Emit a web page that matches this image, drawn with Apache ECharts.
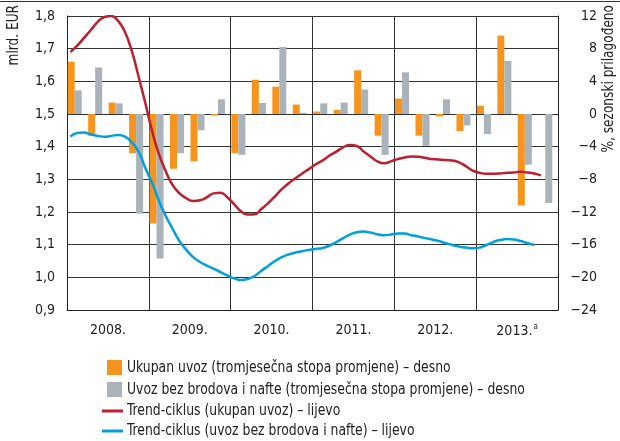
<!DOCTYPE html>
<html>
<head>
<meta charset="utf-8">
<script src="https://cdn.jsdelivr.net/npm/echarts@6/dist/echarts.min.js"></script>
<style>
  html, body { margin: 0; padding: 0; background: #fff; }
  #main { width: 620px; height: 441px; }
</style>
</head>
<body>
<div id="main"></div>
<script>
// godine i kvartali
var years = ['2008.', '2009.', '2010.', '2011.', '2012.', '2013.'];
var quarters = [];
var months = [];
for (var y = 0; y < years.length; y++) {
    for (var q = 1; q <= 4; q++) quarters.push(years[y] + ' Q' + q);
    for (var m = 1; m <= 12; m++) months.push(years[y] + ' ' + m);
}

// tromjesecna stopa promjene (%), desna os
var ukupanUvoz = [
    6.4, -2.65, 1.4, -4.8,
    -13.4, -6.7, -5.8, -0.2,
    -4.8, 4.2, 3.35, 1.15,
    0.3, 0.5, 5.35, -2.65,
    1.9, -2.65, -0.3, -2.1,
    1.0, 9.6, -11.2, null
];
var uvozBezBrodova = [
    2.9, 5.7, 1.3, -12.2,
    -17.7, -4.8, -2.0, 1.8,
    -5.0, 1.35, 8.2, 0.15,
    1.3, 1.4, 3.0, -5.0,
    5.1, -3.9, 1.8, -1.4,
    -2.45, 6.5, -6.2, -10.9
];

// trend-ciklus (mlrd. EUR), lijeva os, mjesecno
var trendUkupan = [
    1.690, 1.709, 1.733, 1.757, 1.782, 1.797, 1.800, 1.785, 1.751, 1.693, 1.614, 1.532,
    1.446, 1.376, 1.324, 1.282, 1.257, 1.242, 1.234, 1.236, 1.245, 1.257, 1.259, 1.245,
    1.224, 1.202, 1.192, 1.193, 1.209, 1.227, 1.248, 1.270, 1.288, 1.303, 1.318, 1.332,
    1.346, 1.358, 1.373, 1.385, 1.398, 1.405, 1.402, 1.385, 1.370, 1.355, 1.349, 1.355,
    1.362, 1.367, 1.370, 1.369, 1.366, 1.362, 1.361, 1.359, 1.358, 1.352, 1.340, 1.327,
    1.320, 1.317, 1.317, 1.318, 1.320, 1.321, 1.323, 1.321, 1.318, 1.312
];
var trendBezBrodova = [
    1.431, 1.442, 1.443, 1.437, 1.433, 1.430, 1.433, 1.436, 1.431, 1.413, 1.385, 1.334,
    1.288, 1.233, 1.187, 1.148, 1.111, 1.084, 1.062, 1.047, 1.036, 1.027, 1.016, 1.006,
    0.997, 0.992, 0.995, 1.004, 1.020, 1.035, 1.050, 1.062, 1.070, 1.076, 1.080, 1.084,
    1.087, 1.090, 1.097, 1.108, 1.120, 1.131, 1.138, 1.140, 1.137, 1.132, 1.129, 1.131,
    1.134, 1.134, 1.129, 1.125, 1.120, 1.116, 1.111, 1.105, 1.099, 1.094, 1.091, 1.089,
    1.091, 1.099, 1.108, 1.114, 1.117, 1.116, 1.111, 1.105, 1.099
];

var legendNames = [
    'Ukupan uvoz (tromjesečna stopa promjene) – desno',
    'Uvoz bez brodova i nafte (tromjesečna stopa promjene) – desno',
    'Trend-ciklus (ukupan uvoz) – lijevo',
    'Trend-ciklus (uvoz bez brodova i nafte) – lijevo'
];

var font = "'Liberation Sans Narrow', 'DejaVu Sans Condensed', Arial, sans-serif";
var fs = 14;
var orange = '#f7941d', grey = '#a9b3b9', red = '#be1e2d', blue = '#00a0dc';

// tekst legende, malo suzen da odgovara uskom fontu originala
function legendText(txt, y) {
    return {
        type: 'text', x: 127, y: y, scaleX: 0.92,
        style: { text: txt, fill: '#222', font: '15px ' + font, textVerticalAlign: 'middle' }
    };
}

window.addEventListener('load', function () {
    var myChart = echarts.init(document.getElementById('main'));
    var option = {
        animation: false,
        textStyle: { fontFamily: font },
        grid: { left: 67, right: 62, top: 16, bottom: 131 },
        xAxis: [
            { type: 'category', data: months, show: false, boundaryGap: true },
            { type: 'category', data: quarters, show: false, boundaryGap: true },
            {
                type: 'category', data: years, position: 'bottom', boundaryGap: true,
                axisLine: { lineStyle: { color: '#222', width: 1 } },
                axisTick: { show: false, interval: 0 },
                splitLine: { show: true, interval: 0, lineStyle: { color: '#333', width: 1 } },
                axisLabel: {
                    interval: 0,
                    color: '#222', fontSize: fs, fontFamily: font, margin: 13,
                    formatter: function (v) {
                        return v === '2013.' ? v + '{s|a}' : v;
                    },
                    rich: { s: { fontSize: 8, fontFamily: font, color: '#222', padding: [0, 0, 8, 1] } }
                }
            }
        ],
        yAxis: [
            {
                type: 'value', min: 0.9, max: 1.8, interval: 0.1,
                axisLine: { show: true, lineStyle: { color: '#222' } },
                axisTick: { show: false },
                splitLine: { lineStyle: { color: '#333', width: 1 } },
                axisLabel: {
                    color: '#222', fontSize: fs, fontFamily: font, margin: 12,
                    formatter: function (v) { return v.toFixed(1).replace('.', ','); }
                }
            },
            {
                type: 'value', min: -24, max: 12, interval: 4, position: 'right',
                axisLine: { show: true, lineStyle: { color: '#222' } },
                axisTick: { show: false },
                splitLine: { show: false },
                axisLabel: {
                    color: '#222', fontSize: fs, fontFamily: font, margin: 39, align: 'right',
                    formatter: function (v) { return v < 0 ? '\u2212' + Math.abs(v) : String(v); }
                }
            }
        ],
        series: [
            {
                name: legendNames[0], type: 'bar', xAxisIndex: 1, yAxisIndex: 1,
                data: ukupanUvoz, barWidth: 7, barGap: 0,
                itemStyle: { color: orange }
            },
            {
                name: legendNames[1], type: 'bar', xAxisIndex: 1, yAxisIndex: 1,
                data: uvozBezBrodova, barWidth: 7, barGap: 0,
                itemStyle: { color: grey }
            },
            {
                // prazan stupac samo za pomak para ulijevo
                name: 'pad', type: 'bar', xAxisIndex: 1, yAxisIndex: 1,
                data: quarters.map(function () { return null; }), barWidth: 5, barGap: 0,
                silent: true
            },
            {
                name: legendNames[2], type: 'line', xAxisIndex: 0, yAxisIndex: 0,
                data: trendUkupan, smooth: true, showSymbol: false, symbol: 'none',
                lineStyle: { color: red, width: 2.5 }
            },
            {
                name: legendNames[3], type: 'line', xAxisIndex: 0, yAxisIndex: 0,
                data: trendBezBrodova, smooth: true, showSymbol: false, symbol: 'none',
                lineStyle: { color: blue, width: 2.5 }
            }
        ],
        graphic: [
            { type: 'line', shape: { x1: 0, y1: 1.5, x2: 620, y2: 1.5 }, style: { stroke: '#333', lineWidth: 1 } },
            {
                type: 'text', x: 14, y: 5, rotation: Math.PI / 2, scaleX: 0.9,
                style: { text: 'mlrd. EUR', fill: '#222', font: '15px ' + font, textAlign: 'right', textVerticalAlign: 'middle' }
            },
            {
                type: 'text', x: 609, y: 5, rotation: Math.PI / 2, scaleX: 0.9,
                style: { text: '%, sezonski prilagođeno', fill: '#222', font: '15px ' + font, textAlign: 'right', textVerticalAlign: 'middle' }
            },
            // legenda
            { type: 'rect', shape: { x: 107, y: 360, width: 15, height: 15 }, style: { fill: orange } },
            legendText(legendNames[0], 368),
            { type: 'rect', shape: { x: 107, y: 382, width: 15, height: 15 }, style: { fill: grey } },
            legendText(legendNames[1], 390),
            { type: 'line', shape: { x1: 102, y1: 411, x2: 123, y2: 411 }, style: { stroke: red, lineWidth: 3 } },
            legendText(legendNames[2], 411),
            { type: 'line', shape: { x1: 102, y1: 431, x2: 123, y2: 431 }, style: { stroke: blue, lineWidth: 3 } },
            legendText(legendNames[3], 431)
        ]
    };
    myChart.setOption(option);
});
</script>
</body>
</html>
